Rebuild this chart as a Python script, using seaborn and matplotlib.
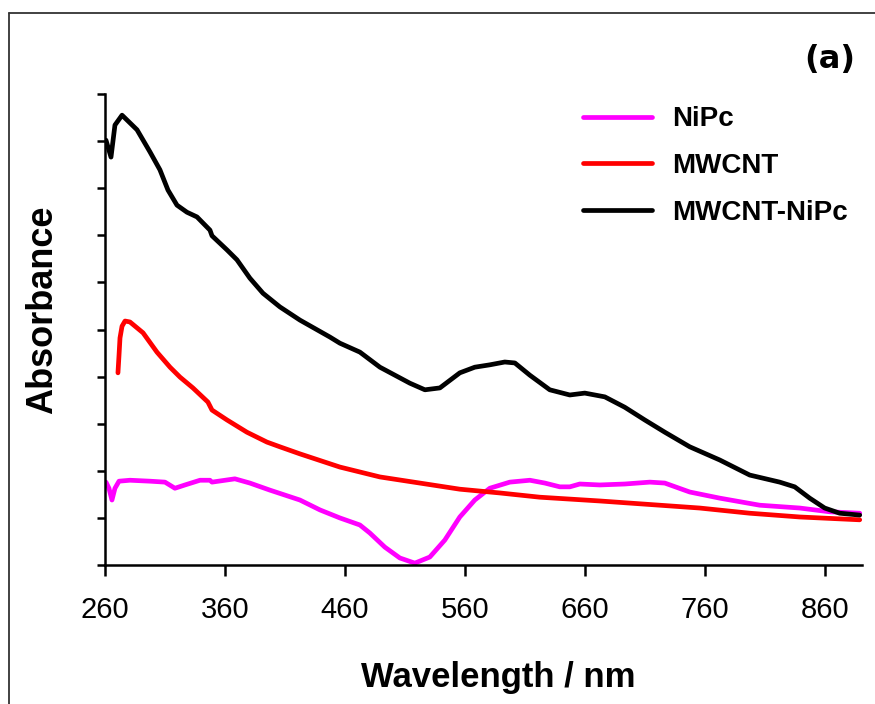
import matplotlib
matplotlib.use("Agg")
import matplotlib.pyplot as plt
from matplotlib.lines import Line2D
import numpy as np
import pandas as pd
import seaborn as sns

# UV-vis absorption spectra (arbitrary absorbance units)
nipc_wl = [260.8, 263.3, 265.8, 268.3, 271.7, 280.8, 297.5, 310.0, 318.3, 326.7,
           339.2, 347.5, 349.2, 368.3, 380.8, 397.5, 422.5, 439.2, 455.8, 472.5,
           480.8, 493.3, 505.8, 518.3, 530.8, 543.3, 555.8, 568.3, 580.8, 597.5,
           614.2, 626.7, 639.2, 647.5, 655.8, 672.5, 693.3, 714.2, 726.7, 747.5,
           772.5, 805.8, 839.2, 864.2, 889.2]
nipc_abs = [0.176, 0.163, 0.138, 0.163, 0.178, 0.180, 0.178, 0.176, 0.163, 0.170,
            0.180, 0.180, 0.176, 0.183, 0.174, 0.159, 0.138, 0.117, 0.100, 0.085,
            0.068, 0.038, 0.015, 0.004, 0.017, 0.053, 0.102, 0.138, 0.163, 0.176,
            0.180, 0.174, 0.166, 0.166, 0.172, 0.170, 0.172, 0.176, 0.174, 0.155,
            0.142, 0.127, 0.121, 0.113, 0.110]

mwcnt_wl = [270.8, 271.7, 272.5, 274.2, 276.7, 280.8, 291.7, 303.3, 314.2, 322.5,
            333.3, 345.8, 349.2, 361.7, 378.3, 395.0, 405.8, 422.5, 455.8, 489.2,
            522.5, 555.8, 589.2, 622.5, 672.5, 722.5, 755.8, 797.5, 839.2, 889.2]
mwcnt_abs = [0.408, 0.446, 0.482, 0.507, 0.518, 0.516, 0.493, 0.452, 0.420, 0.399,
             0.376, 0.346, 0.329, 0.308, 0.282, 0.261, 0.251, 0.236, 0.208, 0.187,
             0.174, 0.161, 0.153, 0.144, 0.136, 0.127, 0.121, 0.110, 0.102, 0.096]

hybrid_wl = [260.8, 265.0, 268.3, 274.2, 286.7, 297.5, 305.8, 312.5, 320.0, 328.3,
             336.7, 347.5, 349.2, 361.7, 370.0, 380.8, 391.7, 405.8, 422.5, 447.5,
             455.8, 472.5, 489.2, 514.2, 526.7, 539.2, 555.8, 568.3, 580.8, 593.3,
             601.7, 614.2, 630.8, 647.5, 660.0, 676.7, 693.3, 710.0, 726.7, 747.5,
             772.5, 797.5, 822.5, 835.0, 847.5, 860.0, 872.5, 889.2]
hybrid_abs = [0.902, 0.866, 0.934, 0.955, 0.924, 0.877, 0.839, 0.796, 0.764, 0.749,
              0.739, 0.711, 0.699, 0.669, 0.648, 0.609, 0.577, 0.548, 0.520, 0.484,
              0.471, 0.452, 0.420, 0.386, 0.372, 0.376, 0.408, 0.420, 0.425, 0.431,
              0.429, 0.403, 0.372, 0.361, 0.365, 0.357, 0.335, 0.308, 0.282, 0.251,
              0.223, 0.191, 0.176, 0.166, 0.142, 0.121, 0.110, 0.106]

series_names = ["NiPc", "MWCNT", "MWCNT-NiPc"]
series_colors = ["#ff00ff", "#ff0000", "#000000"]
x_ticks = [260, 360, 460, 560, 660, 760, 860]

frames = []
for name, wl, ab in zip(series_names,
                        [nipc_wl, mwcnt_wl, hybrid_wl],
                        [nipc_abs, mwcnt_abs, hybrid_abs]):
    frames.append(pd.DataFrame({"Wavelength": wl, "Absorbance": ab, "Sample": name}))
df = pd.concat(frames, ignore_index=True)

sns.set_theme(style="white")
sans = ["Liberation Sans", "DejaVu Sans"]
plt.rcParams["font.family"] = sans
plt.rcParams["text.color"] = "black"
plt.rcParams["axes.labelcolor"] = "black"
plt.rcParams["xtick.color"] = "black"
plt.rcParams["ytick.color"] = "black"

fig = plt.figure(figsize=(8.75, 7.04), dpi=100)
ax = fig.add_axes([0.12, 0.1974, 0.865, 0.6691])

sns.lineplot(data=df, x="Wavelength", y="Absorbance", hue="Sample",
             hue_order=series_names, palette=dict(zip(series_names, series_colors)),
             estimator=None, sort=False, linewidth=3.4, ax=ax, legend=False)

ax.set_xlim(260, 891)
ax.set_ylim(0, 1.0)
ax.set_xticks(x_ticks)
ax.set_xticklabels([str(t) for t in x_ticks], fontsize=21)
ax.set_yticks(np.arange(0, 1.01, 0.1))
ax.set_yticklabels([])

for side in ["top", "right"]:
    ax.spines[side].set_visible(False)
for side in ["left", "bottom"]:
    ax.spines[side].set_color("black")
    ax.spines[side].set_linewidth(1.8)
ax.tick_params(axis="x", direction="out", length=8, width=1.8, color="black",
               bottom=True, pad=14)
ax.tick_params(axis="y", direction="out", length=6, width=1.8, color="black",
               left=True)

ax.set_xlabel("Wavelength / nm", fontsize=25, fontweight="bold")
ax.xaxis.set_label_coords(0.52, -0.203)
ax.xaxis.label.set_va("top")
ax.set_ylabel("Absorbance", fontsize=26, fontweight="bold")
ax.yaxis.set_label_coords(-0.082, 0.541)
ax.yaxis.label.set_va("center")

handles = [Line2D([0], [0], color=c, lw=3.4) for c in series_colors]
leg = ax.legend(handles, series_names, loc="upper left",
                bbox_to_anchor=(0.598, 1.027), frameon=False,
                handlelength=2.5, handletextpad=0.72, labelspacing=0.75,
                prop={"weight": "bold", "size": 20})

fig.text(0.977, 0.915, "(a)", ha="right", va="center", fontsize=23,
         fontweight="bold", family=["DejaVu Sans"])

# frame lines along the left and top edges of the figure
fig.add_artist(Line2D([0.0103, 0.0103], [0.0, 0.9815], color="#333333", lw=1.3,
                      transform=fig.transFigure))
fig.add_artist(Line2D([0.0103, 1.0], [0.9815, 0.9815], color="#333333", lw=1.3,
                      transform=fig.transFigure))

fig.savefig("out.png", dpi=100)
